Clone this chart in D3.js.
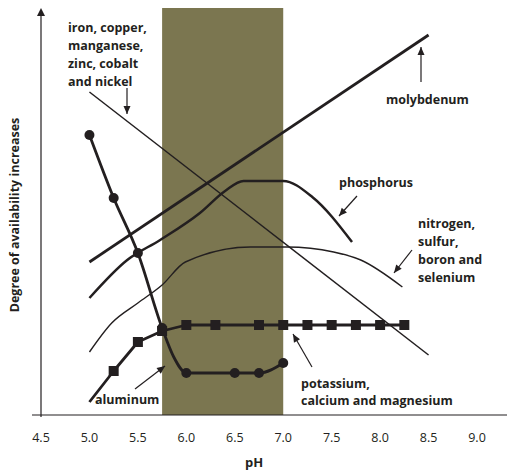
<!DOCTYPE html>
<html><head><meta charset="utf-8">
<script src="https://cdn.jsdelivr.net/npm/d3@7"></script>
<style>body{margin:0;background:#fff}text{font-family:"Open Sans",sans-serif;fill:#231f20}</style>
</head><body><svg id="c" width="514" height="474"></svg>
<script>
// values: availability (arbitrary units, 0 = baseline, 407 = top)
const ticks = [4.5,5.0,5.5,6.0,6.5,7.0,7.5,8.0,8.5,9.0];
const band = [5.75, 7.0];
const molyPH = [5.0, 8.5], molyV = [153, 380];
const ironPH = [5.0, 8.5], ironV = [323, 60];
const phosPH = [5.0,5.39,5.73,6.14,6.4,6.59,7.0,7.3,7.71];
const phosV  = [117,155,175,202,224,234,234,218,173];
const nitPH = [5.0,5.23,5.5,5.75,5.99,6.66,7.04,7.52,7.8,8.23];
const nitV  = [63,92,112,130,153,168,168,163,155,128];
const alPH = [5.0,5.25,5.5,5.75,5.87,6.0,6.5,6.75,7.0];
const alV  = [280,217,162,87,58,42,42,42,52];
const alMark = [1,1,1,1,0,1,1,1,1];
const kPH = [5.0,5.25,5.5,5.75,6.0,6.3,6.75,7.0,7.25,7.5,7.75,8.0,8.25];
const kV  = [13,44,73,84,90,90,90,90,90,90,90,90,90];
const kMark = [0,1,1,1,1,1,1,1,1,1,1,1,1];

const svg = d3.select("#c");
const x = d3.scaleLinear().domain([4.5,9.0]).range([41,477]);
const y = d3.scaleLinear().domain([0,407]).range([415,8]);
const ink="#231f20";
svg.append("rect").attr("x",x(band[0])).attr("width",x(band[1])-x(band[0])).attr("y",y(407)).attr("height",y(0)-y(407)).attr("fill","#7b7650");
// axes
svg.append("line").attr("x1",x(4.5)).attr("x2",x(4.5)).attr("y1",y(0)+2).attr("y2",y(400)).attr("stroke",ink).attr("stroke-width",1.2);
svg.append("path").attr("d",`M${x(4.5)-4},${y(399)}L${x(4.5)},${y(407)}L${x(4.5)+4},${y(399)}Z`).attr("fill",ink);
svg.append("line").attr("x1",32).attr("x2",507).attr("y1",y(0)).attr("y2",y(0)).attr("stroke",ink).attr("stroke-width",1.2);
ticks.forEach(t=>svg.append("text").attr("x",x(t)).attr("y",442).attr("text-anchor","middle").attr("font-size",12.5).attr("font-family","Liberation Sans Narrow, sans-serif").text(t.toFixed(1)));
svg.append("text").attr("x",x(6.7)).attr("y",467).attr("text-anchor","middle").attr("font-weight","bold").attr("font-size",13).text("pH");
svg.append("text").attr("transform","translate(19,215) rotate(-90)").attr("text-anchor","middle").attr("font-weight","bold").attr("font-size",12.5).text("Degree of availability increases");

function ln(px,vs,w,curve){
  const l=d3.line().x((d,i)=>x(px[i])).y(d=>y(d)).curve(curve||d3.curveLinear);
  svg.append("path").attr("d",l(vs)).attr("fill","none").attr("stroke",ink).attr("stroke-width",w).attr("stroke-linejoin","round");
}
ln(ironPH,ironV,1.5);
ln(molyPH,molyV,2.8);
ln(nitPH,nitV,1.4,d3.curveMonotoneX);
ln(phosPH,phosV,2.5,d3.curveMonotoneX);
ln(kPH,kV,2.8);
ln(alPH,alV,2.8,d3.curveMonotoneX);
kPH.forEach((p,i)=>{if(kMark[i])svg.append("rect").attr("x",x(p)-5).attr("y",y(kV[i])-5).attr("width",10).attr("height",10).attr("fill",ink);});
alPH.forEach((p,i)=>{if(alMark[i])svg.append("circle").attr("cx",x(p)).attr("cy",y(alV[i])).attr("r",5).attr("fill",ink);});

function label(lines,x0,y0,dy){lines.forEach((t,i)=>svg.append("text").attr("x",x0).attr("y",y0+i*dy).attr("font-weight","bold").attr("font-size",12.5).text(t));}
label(["iron, copper,","manganese,","zinc, cobalt","and nickel"],68,32,18);
label(["molybdenum"],386,104,0);
label(["phosphorus"],339,187,0);
label(["nitrogen,","sulfur,","boron and","selenium"],418,228,18);
label(["potassium,","calcium and magnesium"],301,388,17);
label(["aluminum"],95,404,0);
function arrow(x1,y1,x2,y2){
  svg.append("line").attr("x1",x1).attr("y1",y1).attr("x2",x2).attr("y2",y2).attr("stroke",ink).attr("stroke-width",1.2);
  const a=Math.atan2(y2-y1,x2-x1),s=8,w=3.5;
  const bx=x2-s*Math.cos(a),by=y2-s*Math.sin(a);
  svg.append("path").attr("d",`M${x2},${y2}L${bx-w*Math.sin(a)},${by+w*Math.cos(a)}L${bx+w*Math.sin(a)},${by-w*Math.cos(a)}Z`).attr("fill",ink);
}
arrow(127,88,127,114);
arrow(421,82,421,47);
arrow(357,196,339,216);
arrow(412,250,394,273);
arrow(312,367,293,334);
arrow(135,389,165,366);
</script></body></html>
